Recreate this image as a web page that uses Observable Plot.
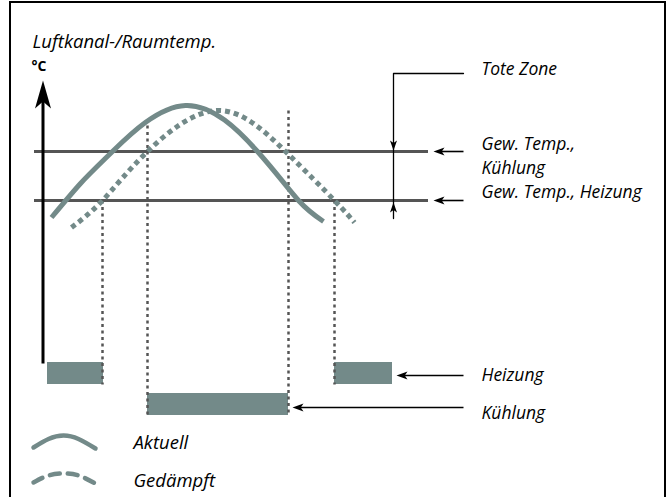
<!DOCTYPE html>
<html>
<head>
<meta charset="utf-8">
<script src="https://cdn.jsdelivr.net/npm/d3@7"></script>
<script src="https://cdn.jsdelivr.net/npm/@observablehq/plot@0.6"></script>
<style>
html,body{margin:0;padding:0;background:#fff;}
</style>
</head>
<body>
<div id="chart"></div>
<script>
// ---- Diagram data (diagram units; x = time, y = temperature, top = hot) ----
const title = "Luftkanal-/Raumtemp.";
const unitLabel = "°C";

// Actual temperature curve
const aktuellX = [51, 80, 112, 185, 257, 298, 323];
const aktuellY = [217, 183, 151, 105, 151, 200, 221];
// Damped temperature curve
const gedaempftX = [71, 102, 147, 218, 285, 334, 354];
const gedaempftY = [227, 200, 151, 110, 151, 200, 222];

// Setpoints
const setpointY = [151, 200];
const setpointLineX = [34, 428];

// Switching instants (vertical dotted lines)
const switchX = [102, 147, 288, 334];
const switchTop = [200, 125, 110, 200];
const switchBottom = [384, 415, 415, 384];

// Output periods
const heizX1 = [47, 334], heizX2 = [103, 392];
const heizY = [362, 384];
const kuehlX1 = [147], kuehlX2 = [288];
const kuehlY = [393, 415];

// Annotation labels (baselines)
const labelText = ["Tote Zone", "Gew. Temp.,", "Kühlung", "Gew. Temp., Heizung", "Heizung", "Kühlung"];
const labelX = [481, 481, 481, 481, 481, 481];
const labelY = [74, 149, 173, 197, 380, 418];

// Leader arrows pointing left from labels to the diagram
const leaderFromX = [463, 463, 463, 463];
const leaderToX = [433, 433, 396, 292];
const leaderY = [151, 200, 375, 407];

// Dead zone bracket
const bracketX = 393;
const bracketTop = 73, bracketBottom = 218;
const bracketRightX = 463;

// Y axis arrow
const axisX = 42.5, axisTip = 80, axisBottom = 363;

// Legend
const legendNames = ["Aktuell", "Gedämpft"];
const legendTextX = 133, legendTextY = [448, 486];
const legendArcX = [33, 48, 63, 78, 95];
const legendArcY = [[447, 438.5, 435, 438.5, 448], [482, 475, 473, 475, 483]];

// Frame
const frame = {x1: 10, y1: 2, x2: 665, y2: 520};

// ---- Helpers ----
const curveColor = "#738a89";
const lineColor = "#555555";
const zip = (xs, ys) => xs.map((x, i) => ({x, y: ys[i]}));

function head(tx, ty, dir, len, half) {
  const n = len * 0.25;
  if (dir === "left") return [{x: tx, y: ty}, {x: tx + len, y: ty - half}, {x: tx + len - n, y: ty}, {x: tx + len, y: ty + half}];
  if (dir === "up") return [{x: tx, y: ty}, {x: tx - half, y: ty + len}, {x: tx, y: ty + len - n}, {x: tx + half, y: ty + len}];
  if (dir === "down") return [{x: tx, y: ty}, {x: tx - half, y: ty - len}, {x: tx, y: ty - len + n}, {x: tx + half, y: ty - len}];
}

const heads = [];
leaderToX.forEach((x, i) => heads.push(head(x, leaderY[i], "left", 11, 4)));
heads.push(head(bracketX, setpointY[0] - 1, "down", 10, 3.5));
heads.push(head(bracketX, setpointY[1] + 2, "up", 10, 3.5));
const axisHead = head(axisX, axisTip, "up", 28, 8);

const fontFamily = "'Open Sans', 'DejaVu Sans', sans-serif";
const textOpts = {textAnchor: "start", lineAnchor: "bottom", fontStyle: "italic", fontSize: 18.5, fill: "black"};

const switchData = switchX.map((x, i) => ({x, y1: switchTop[i], y2: switchBottom[i]}));

const marks = [
  Plot.rect([frame], {x1: "x1", x2: "x2", y1: "y1", y2: "y2", fill: "none", stroke: "black", strokeWidth: 2}),
  Plot.ruleY(setpointY, {x1: setpointLineX[0], x2: setpointLineX[1], stroke: lineColor, strokeWidth: 3}),
  Plot.rect(heizX1.map((x, i) => ({x1: x, x2: heizX2[i]})), {x1: "x1", x2: "x2", y1: heizY[0], y2: heizY[1], fill: curveColor}),
  Plot.rect(kuehlX1.map((x, i) => ({x1: x, x2: kuehlX2[i]})), {x1: "x1", x2: "x2", y1: kuehlY[0], y2: kuehlY[1], fill: curveColor}),
  Plot.link(switchData, {x1: "x", x2: "x", y1: "y1", y2: "y2", stroke: lineColor, strokeWidth: 2.5, strokeDasharray: "3,3.5"}),
  Plot.line(zip(gedaempftX, gedaempftY), {x: "x", y: "y", curve: "natural", stroke: curveColor, strokeWidth: 5, strokeDasharray: "5,4", strokeLinecap: "butt"}),
  Plot.line(zip(aktuellX, aktuellY), {x: "x", y: "y", curve: "natural", stroke: curveColor, strokeWidth: 5, strokeLinecap: "butt"}),
  Plot.link([{x: axisX, y1: axisBottom, y2: axisTip + 20}], {x1: "x", x2: "x", y1: "y1", y2: "y2", stroke: "black", strokeWidth: 3}),
  Plot.line(axisHead, {x: "x", y: "y", fill: "black", stroke: "none"}),
  Plot.link(leaderY.map((y, i) => ({x1: leaderFromX[i], x2: leaderToX[i] + 5, y})), {x1: "x1", x2: "x2", y1: "y", y2: "y", stroke: "black", strokeWidth: 1.6}),
  Plot.line([{x: bracketRightX, y: bracketTop}, {x: bracketX, y: bracketTop}, {x: bracketX, y: bracketBottom}], {x: "x", y: "y", stroke: "black", strokeWidth: 1.3}),
  ...heads.map(h => Plot.line(h, {x: "x", y: "y", fill: "black", stroke: "none"})),
  Plot.line(zip(legendArcX, legendArcY[0]), {x: "x", y: "y", curve: "natural", stroke: curveColor, strokeWidth: 4.5}),
  Plot.line(zip(legendArcX, legendArcY[1]), {x: "x", y: "y", curve: "natural", stroke: curveColor, strokeWidth: 4.5, strokeDasharray: "10,8"}),
  Plot.text(legendNames, {...textOpts, x: legendTextX, y: (d, i) => legendTextY[i], text: d => d}),
  Plot.text(labelText, {...textOpts, fontSize: 17.5, x: (d, i) => labelX[i], y: (d, i) => labelY[i], text: d => d}),
  Plot.text([title], {...textOpts, x: 32, y: 47, text: d => d}),
  Plot.text([unitLabel], {textAnchor: "start", lineAnchor: "bottom", x: 31, y: 70, text: d => d, fontWeight: "bold", fontSize: 14, fill: "black"})
];

const chart = Plot.plot({
  width: 667,
  height: 497,
  margin: 0,
  x: {domain: [0, 667], range: [0, 667], axis: null},
  y: {domain: [0, 497], range: [0, 497], axis: null},
  style: {fontFamily, background: "white", overflow: "hidden"},
  marks
});
document.getElementById("chart").appendChild(chart);
</script>
</body>
</html>
